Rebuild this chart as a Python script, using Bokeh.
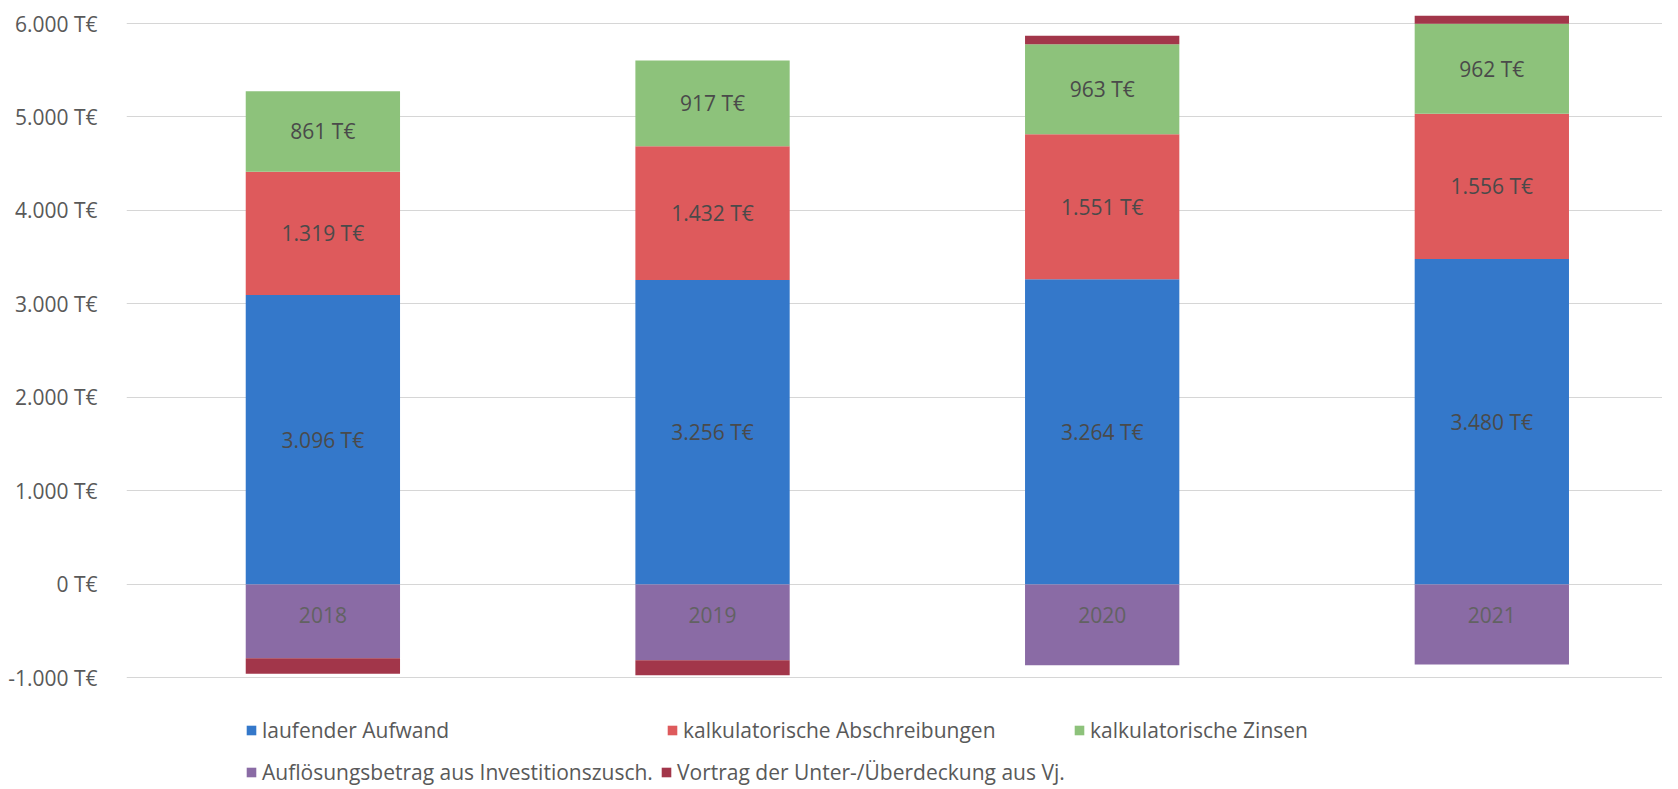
import numpy as np
from bokeh.plotting import figure
from bokeh.models import (ColumnDataSource, Range1d, FixedTicker, Legend, LegendItem,
                          CustomJSTickFormatter)
from bokeh.core.properties import value
from bokeh.embed import file_html
from bokeh.resources import INLINE

# ---- data (T€) ----
years = ["2018", "2019", "2020", "2021"]
laufender_aufwand = [3096, 3256, 3264, 3480]
kalk_abschreibungen = [1319, 1432, 1551, 1556]
kalk_zinsen = [861, 917, 963, 962]
aufloesung = [-790, -810, -865, -855]
vortrag = [-165, -160, 90, 85]
y_ticks = [-1000, 0, 1000, 2000, 3000, 4000, 5000, 6000]

series_names = ["laufender Aufwand", "kalkulatorische Abschreibungen", "kalkulatorische Zinsen",
                "Auflösungsbetrag aus Investitionszusch.", "Vortrag der Unter-/Überdeckung aus Vj."]
colors = ["#3478CA", "#DE5A5C", "#8DC27B", "#8A6BA5", "#A2364A"]

FONT = "Open Sans"
TXT = "#595959"


def fmt(v):
    return f"{v:,}".replace(",", ".") + " T€"


x = np.arange(len(years), dtype=float)
b = np.array(laufender_aufwand, float)
r = np.array(kalk_abschreibungen, float)
g = np.array(kalk_zinsen, float)
a = np.array(aufloesung, float)
v = np.array(vortrag, float)

b0, b1 = np.zeros_like(b), b
r0, r1 = b1, b1 + r
g0, g1 = r1, r1 + g
a0, a1 = np.zeros_like(a), a
v0 = np.where(v >= 0, g1, a1)
v1 = v0 + v

src = ColumnDataSource(dict(
    x=x, year=years,
    b0=b0, b1=b1, r0=r0, r1=r1, g0=g0, g1=g1, a0=a0, a1=a1, v0=v0, v1=v1,
    bm=(b0 + b1) / 2, rm=(r0 + r1) / 2, gm=(g0 + g1) / 2,
    bl=[fmt(t) for t in laufender_aufwand],
    rl=[fmt(t) for t in kalk_abschreibungen],
    gl=[fmt(t) for t in kalk_zinsen],
    zero=np.zeros_like(b),
))

W, H = 1662, 785
p = figure(width=W, height=H, output_backend="svg", toolbar_location=None,
           x_range=Range1d(-0.504, 3.438), y_range=Range1d(-2150, 6246),
           min_border_left=126, min_border_right=0, min_border_top=0, min_border_bottom=0)
p.outline_line_color = None
p.background_fill_color = "white"
p.border_fill_color = "white"

p.xaxis.visible = False
p.xgrid.visible = False
p.yaxis.ticker = FixedTicker(ticks=y_ticks)
p.yaxis.formatter = CustomJSTickFormatter(code="""
    const s = Math.round(tick).toString();
    const neg = s.startsWith('-');
    const d = neg ? s.slice(1) : s;
    return (neg ? '-' : '') + d.replace(/\\B(?=(\\d{3})+(?!\\d))/g, '.') + ' T€';
""")
p.yaxis.axis_line_color = None
p.yaxis.major_tick_line_color = None
p.yaxis.minor_tick_line_color = None
p.yaxis.major_label_standoff = 23
p.yaxis.major_label_text_font = FONT
p.yaxis.major_label_text_font_size = "21px"
p.yaxis.major_label_text_color = TXT
p.ygrid.ticker = FixedTicker(ticks=y_ticks)
p.ygrid.grid_line_color = "#D6D6D6"
p.ygrid.grid_line_width = 1

bw = 0.396
rb = p.vbar(x="x", bottom="b0", top="b1", width=bw, source=src, fill_color=colors[0], line_color=None)
rr = p.vbar(x="x", bottom="r0", top="r1", width=bw, source=src, fill_color=colors[1], line_color=None)
rg = p.vbar(x="x", bottom="g0", top="g1", width=bw, source=src, fill_color=colors[2], line_color=None)
ra = p.vbar(x="x", bottom="a0", top="a1", width=bw, source=src, fill_color=colors[3], line_color=None)
rv = p.vbar(x="x", bottom="v0", top="v1", width=bw, source=src, fill_color=colors[4], line_color=None)

lab_kw = dict(source=src, text_align="center", text_baseline="middle",
              text_font=value(FONT), text_font_size="21px", text_color="#4A4A4A")
p.text(x="x", y="bm", text="bl", **lab_kw)
p.text(x="x", y="rm", text="rl", **lab_kw)
p.text(x="x", y="gm", text="gl", **lab_kw)
p.text(x="x", y="zero", text="year", y_offset=31, **dict(lab_kw, text_color="#626262"))

# legend: one box per entry, placed like the original two-row layout
renderers = [rb, rr, rg, ra, rv]
positions = [(119, 41), (540, 41), (947, 41), (119, -1), (534, -1)]
for name, rend, (lx, ly) in zip(series_names, renderers, positions):
    leg = Legend(items=[LegendItem(label=name, renderers=[rend])], location=(lx, ly),
                 glyph_width=12, glyph_height=12, label_standoff=5, padding=0, margin=0,
                 border_line_color=None, background_fill_alpha=0,
                 label_text_font=FONT, label_text_font_size="21px", label_text_color=TXT,
                 label_height=20)
    p.add_layout(leg, "center")

open("out.html", "w").write(file_html(p, INLINE))
